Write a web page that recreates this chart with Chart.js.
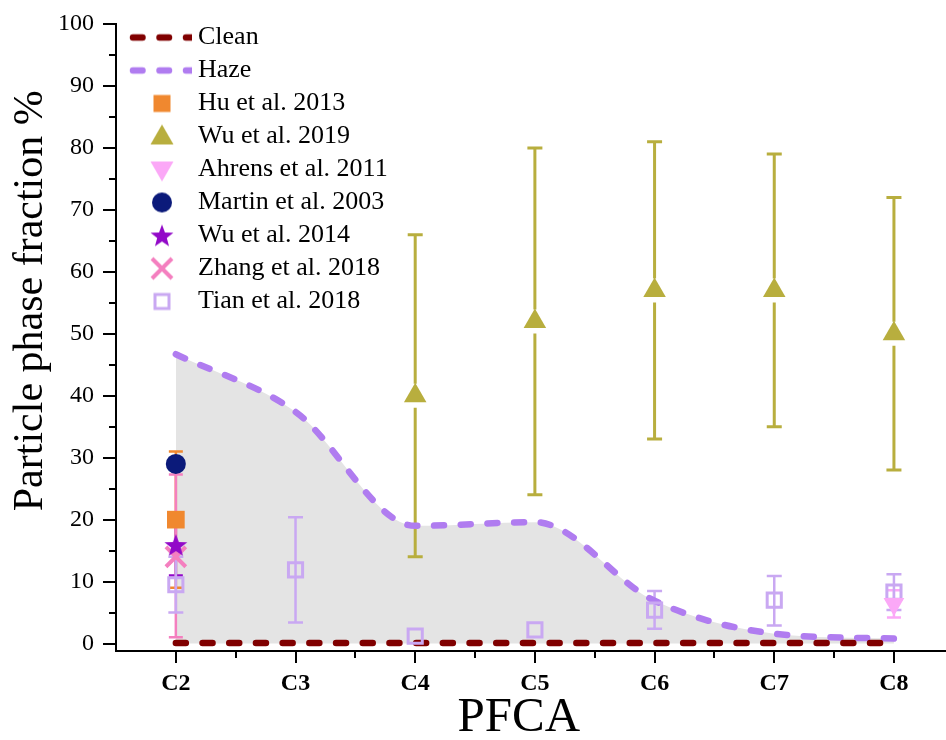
<!DOCTYPE html>
<html>
<head>
<meta charset="utf-8">
<script src="https://cdn.jsdelivr.net/npm/chart.js@4.4.0/dist/chart.umd.min.js"></script>
<style>
  html, body { margin: 0; padding: 0; background: #fff; }
  #wrap { width: 946px; height: 740px; }
</style>
</head>
<body>
<div id="wrap"><canvas id="chart"></canvas></div>
<script>
const CATEGORIES = ['C2', 'C3', 'C4', 'C5', 'C6', 'C7', 'C8'];
const Y_TICKS = [0, 10, 20, 30, 40, 50, 60, 70, 80, 90, 100];
const Y_MINOR = [5, 15, 25, 35, 45, 55, 65, 75, 85, 95];
const X_MINOR = [2.5, 3.5, 4.5, 5.5, 6.5, 7.5];

const CLEAN = [0.1, 0.1, 0.1, 0.1, 0.1, 0.1, 0.1];
const HAZE = [46.7, 37.4, 19.0, 19.6, 6.9, 1.6, 0.8];

const HU_2013_CATS = ['C2'];
const HU_2013 = [20];
const HU_2013_LOW = [9];
const HU_2013_HIGH = [31];

const WU_2019_CATS = ['C4', 'C5', 'C6', 'C7', 'C8'];
const WU_2019 = [40, 52, 57, 57, 50];
const WU_2019_LOW = [14, 24, 33, 35, 28];
const WU_2019_HIGH = [66, 80, 81, 79, 72];

const AHRENS_2011_CATS = ['C8'];
const AHRENS_2011 = [6.4];
const AHRENS_2011_LOW = [4.2];
const AHRENS_2011_HIGH = [8.6];

const MARTIN_2003_CATS = ['C2'];
const MARTIN_2003 = [29];

const WU_2014_CATS = ['C2'];
const WU_2014 = [15.9];
const WU_2014_LOW = [11];
const WU_2014_HIGH = [21];

const ZHANG_2018_CATS = ['C2'];
const ZHANG_2018 = [14];
const ZHANG_2018_LOW = [1];
const ZHANG_2018_HIGH = [27.3];

const TIAN_2018_CATS = ['C2', 'C3', 'C4', 'C5', 'C6', 'C7', 'C8'];
const TIAN_2018 = [9.5, 11.9, 1.2, 2.2, 5.4, 7.0, 8.3];
const TIAN_2018_LOW = [5, 3.4, null, null, 2.4, 2.9, 5.4];
const TIAN_2018_HIGH = [14, 20.4, null, null, 8.5, 10.9, 11.2];

const FONT = 'Liberation Serif';
// the axis titles are off-centre in the original; padding spaces shift them
const Y_TITLE = '\u00a0'.repeat(7) + 'Particle phase fraction %';
const X_TITLE = 'PFCA' + '\u00a0'.repeat(2);

function catPos(c) {
  return CATEGORIES.indexOf(c) + 2;
}

function points(cats, vals) {
  return cats.map((c, i) => ({ x: catPos(c), y: vals[i] }));
}

function starPath(ctx, cx, cy, r) {
  ctx.beginPath();
  for (let i = 0; i < 10; i++) {
    const a = -Math.PI / 2 + i * Math.PI / 5;
    const rr = i % 2 === 0 ? r : r * 0.42;
    ctx.lineTo(cx + rr * Math.cos(a), cy + rr * Math.sin(a));
  }
  ctx.closePath();
}

function makeStar(color, r) {
  const c = document.createElement('canvas');
  c.width = c.height = Math.ceil(r * 2 + 2);
  const ctx = c.getContext('2d');
  starPath(ctx, c.width / 2, c.height / 2 + 1, r);
  ctx.fillStyle = color;
  ctx.fill();
  return c;
}

// legend icons; the canvas is wider than the legend box and gets centred on it,
// so the marker and dashed sample sit a bit right of the box start
function makeIcon(kind, color) {
  const c = document.createElement('canvas');
  c.width = 76;
  c.height = 28;
  const ctx = c.getContext('2d');
  const cx = 46, cy = 14;
  ctx.fillStyle = color;
  ctx.strokeStyle = color;
  if (kind === 'dash') {
    ctx.lineWidth = 6.5;
    ctx.lineCap = 'round';
    ctx.setLineDash([9.5, 17]);
    ctx.beginPath();
    ctx.moveTo(17, cy);
    ctx.lineTo(76, cy);
    ctx.stroke();
  } else if (kind === 'rect') {
    ctx.fillRect(cx - 8.5, cy - 8.5, 17, 17);
  } else if (kind === 'tri' || kind === 'triDown') {
    const s = kind === 'tri' ? 1 : -1;
    ctx.beginPath();
    ctx.moveTo(cx, cy - s * 12);
    ctx.lineTo(cx + 11.5, cy + s * 8);
    ctx.lineTo(cx - 11.5, cy + s * 8);
    ctx.closePath();
    ctx.fill();
  } else if (kind === 'circle') {
    ctx.beginPath();
    ctx.arc(cx, cy, 10, 0, Math.PI * 2);
    ctx.fill();
  } else if (kind === 'star') {
    starPath(ctx, cx, cy + 1, 12);
    ctx.fill();
  } else if (kind === 'cross') {
    ctx.lineWidth = 4;
    ctx.beginPath();
    ctx.moveTo(cx - 10, cy - 10);
    ctx.lineTo(cx + 10, cy + 10);
    ctx.moveTo(cx + 10, cy - 10);
    ctx.lineTo(cx - 10, cy + 10);
    ctx.stroke();
  } else if (kind === 'hollow') {
    ctx.lineWidth = 3;
    ctx.strokeRect(cx - 7, cy - 7, 14, 14);
  }
  return c;
}

const LEGEND_ICONS = [
  makeIcon('dash', '#800000'),
  makeIcon('dash', '#b07cf0'),
  makeIcon('rect', '#f0882f'),
  makeIcon('tri', '#b8ae3e'),
  makeIcon('triDown', '#fba8f7'),
  makeIcon('circle', '#0b1a7a'),
  makeIcon('star', '#9209c8'),
  makeIcon('cross', '#f47fbf'),
  makeIcon('hollow', '#c9a8f2'),
];

const errorBars = {
  id: 'errorBars',
  beforeDatasetsDraw(chart) {
    const { ctx, scales: { x, y } } = chart;
    chart.data.datasets.forEach((ds) => {
      if (!ds.errLow) return;
      const eb = ds.errStyle;
      ds.data.forEach((pt, j) => {
        const lo = ds.errLow[j], hi = ds.errHigh[j];
        if (lo == null || hi == null) return;
        const px = x.getPixelForValue(pt.x);
        const pc = y.getPixelForValue(pt.y);
        const pl = y.getPixelForValue(lo);
        const ph = y.getPixelForValue(hi);
        ctx.save();
        ctx.strokeStyle = eb.color;
        ctx.lineWidth = eb.width;
        ctx.beginPath();
        ctx.moveTo(px, ph);
        ctx.lineTo(px, pc - eb.gap);
        ctx.moveTo(px, pc + eb.gap);
        ctx.lineTo(px, pl);
        ctx.moveTo(px - eb.cap / 2, ph);
        ctx.lineTo(px + eb.cap / 2, ph);
        ctx.moveTo(px - eb.cap / 2, pl);
        ctx.lineTo(px + eb.cap / 2, pl);
        ctx.stroke();
        ctx.restore();
      });
    });
  },
};

const minorTicks = {
  id: 'minorTicks',
  afterDraw(chart) {
    const { ctx, chartArea, scales: { x, y } } = chart;
    ctx.save();
    ctx.strokeStyle = '#000';
    ctx.lineWidth = 2;
    ctx.beginPath();
    Y_MINOR.forEach((v) => {
      const py = Math.round(y.getPixelForValue(v));
      ctx.moveTo(chartArea.left - 7, py);
      ctx.lineTo(chartArea.left, py);
    });
    X_MINOR.forEach((v) => {
      const px = Math.round(x.getPixelForValue(v));
      ctx.moveTo(px, chartArea.bottom);
      ctx.lineTo(px, chartArea.bottom + 7);
    });
    ctx.stroke();
    ctx.restore();
  },
};

// legend sits inside the plot; nudge it down to line up with the reference
const legendShift = {
  id: 'legendShift',
  afterLayout(chart) {
    chart.legend.top += 17.5;
    chart.legend.bottom += 17.5;
  },
};

const markerBase = { showLine: false, clip: false, pointBorderWidth: 0 };

const chart = new Chart(document.getElementById('chart'), {
  type: 'line',
  data: {
    datasets: [
      {
        label: 'Clean',
        data: points(CATEGORIES, CLEAN),
        borderColor: '#800000',
        borderWidth: 6.5,
        borderDash: [10, 16.7],
        borderCapStyle: 'round',
        pointRadius: 0,
        fill: false,
        order: 10,
      },
      {
        label: 'Haze',
        data: points(CATEGORIES, HAZE),
        borderColor: '#b07cf0',
        backgroundColor: '#e4e4e4',
        borderWidth: 6.5,
        borderDash: [10, 16.7],
        borderCapStyle: 'round',
        cubicInterpolationMode: 'monotone',
        pointRadius: 0,
        fill: 'origin',
        order: 11,
      },
      {
        ...markerBase,
        label: 'Hu et al. 2013',
        data: points(HU_2013_CATS, HU_2013),
        errLow: HU_2013_LOW,
        errHigh: HU_2013_HIGH,
        errStyle: { color: '#f0882f', width: 2.5, cap: 14, gap: 0 },
        pointStyle: 'rect',
        pointRadius: 12.5,
        pointBackgroundColor: '#f0882f',
        order: 3,
      },
      {
        ...markerBase,
        label: 'Wu et al. 2019',
        data: points(WU_2019_CATS, WU_2019),
        errLow: WU_2019_LOW,
        errHigh: WU_2019_HIGH,
        errStyle: { color: '#b8ae3e', width: 3, cap: 15, gap: 12 },
        pointStyle: 'triangle',
        pointRadius: 13,
        pointBackgroundColor: '#b8ae3e',
        order: 2,
      },
      {
        ...markerBase,
        label: 'Ahrens et al. 2011',
        data: points(AHRENS_2011_CATS, AHRENS_2011),
        errLow: AHRENS_2011_LOW,
        errHigh: AHRENS_2011_HIGH,
        errStyle: { color: '#fba8f7', width: 2.5, cap: 14, gap: 0 },
        pointStyle: 'triangle',
        rotation: 180,
        pointRadius: 12,
        pointBackgroundColor: '#fba8f7',
        order: 4,
      },
      {
        ...markerBase,
        label: 'Martin et al. 2003',
        data: points(MARTIN_2003_CATS, MARTIN_2003),
        pointStyle: 'circle',
        pointRadius: 10,
        pointBackgroundColor: '#0b1a7a',
        order: 1,
      },
      {
        ...markerBase,
        label: 'Wu et al. 2014',
        data: points(WU_2014_CATS, WU_2014),
        errLow: WU_2014_LOW,
        errHigh: WU_2014_HIGH,
        errStyle: { color: '#9209c8', width: 2.5, cap: 14, gap: 0 },
        pointStyle: makeStar('#9209c8', 12),
        pointRadius: 12,
        order: 5,
      },
      {
        ...markerBase,
        label: 'Zhang et al. 2018',
        data: points(ZHANG_2018_CATS, ZHANG_2018),
        errLow: ZHANG_2018_LOW,
        errHigh: ZHANG_2018_HIGH,
        errStyle: { color: '#f47fbf', width: 2.5, cap: 14, gap: 0 },
        pointStyle: 'crossRot',
        pointRadius: 14,
        pointBorderColor: '#f47fbf',
        pointBorderWidth: 4,
        order: 6,
      },
      {
        ...markerBase,
        label: 'Tian et al. 2018',
        data: points(TIAN_2018_CATS, TIAN_2018),
        errLow: TIAN_2018_LOW,
        errHigh: TIAN_2018_HIGH,
        errStyle: { color: '#c9a8f2', width: 2.5, cap: 15, gap: 0 },
        pointStyle: 'rect',
        pointRadius: 10,
        pointBackgroundColor: 'rgba(0,0,0,0)',
        pointBorderColor: '#c9a8f2',
        pointBorderWidth: 3,
        order: 7,
      },
    ],
  },
  options: {
    responsive: true,
    maintainAspectRatio: false,
    animation: false,
    layout: { autoPadding: false, padding: { top: 24, right: 0, bottom: 0, left: 0 } },
    scales: {
      x: {
        type: 'linear',
        min: 1.5,
        max: 8.435,
        afterBuildTicks: (scale) => {
          scale.ticks = CATEGORIES.map((c) => ({ value: catPos(c) }));
        },
        afterFit: (scale) => {
          scale.height = 89;
          scale.paddingLeft = 0;
          scale.paddingRight = 0;
        },
        ticks: {
          callback: (v) => CATEGORIES[v - 2],
          color: '#000',
          padding: 6,
          maxRotation: 0,
          font: { family: FONT, size: 24, weight: 'bold' },
        },
        grid: { drawOnChartArea: false, color: '#000', lineWidth: 2, tickLength: 12 },
        border: { color: '#000', width: 2 },
        title: {
          display: true,
          text: X_TITLE,
          color: '#000',
          padding: { top: 0, bottom: -8 },
          font: { family: FONT, size: 49 },
        },
      },
      y: {
        type: 'linear',
        min: -1.2,
        max: 100,
        afterBuildTicks: (scale) => {
          scale.ticks = Y_TICKS.map((v) => ({ value: v }));
        },
        afterFit: (scale) => {
          scale.width = 116;
        },
        ticks: {
          color: '#000',
          padding: 9,
          font: { family: FONT, size: 24 },
        },
        grid: { drawOnChartArea: false, color: '#000', lineWidth: 2, tickLength: 13 },
        border: { color: '#000', width: 2 },
        title: {
          display: true,
          text: Y_TITLE,
          color: '#000',
          padding: { top: 6, bottom: 0 },
          font: { family: FONT, size: 42 },
        },
      },
    },
    plugins: {
      filler: { drawTime: 'beforeDatasetsDraw' },
      tooltip: { enabled: false },
      legend: {
        position: 'chartArea',
        align: 'start',
        labels: {
          color: '#000',
          usePointStyle: true,
          pointStyleWidth: 62,
          boxHeight: 26,
          padding: 7,
          font: { family: FONT, size: 26 },
          sort: (a, b) => a.datasetIndex - b.datasetIndex,
          generateLabels: (chart) => {
            const items = Chart.defaults.plugins.legend.labels.generateLabels(chart);
            items.forEach((it) => {
              it.pointStyle = LEGEND_ICONS[it.datasetIndex];
              it.rotation = 0;
            });
            return items;
          },
        },
      },
    },
  },
  plugins: [errorBars, minorTicks, legendShift],
});
</script>
</body>
</html>
